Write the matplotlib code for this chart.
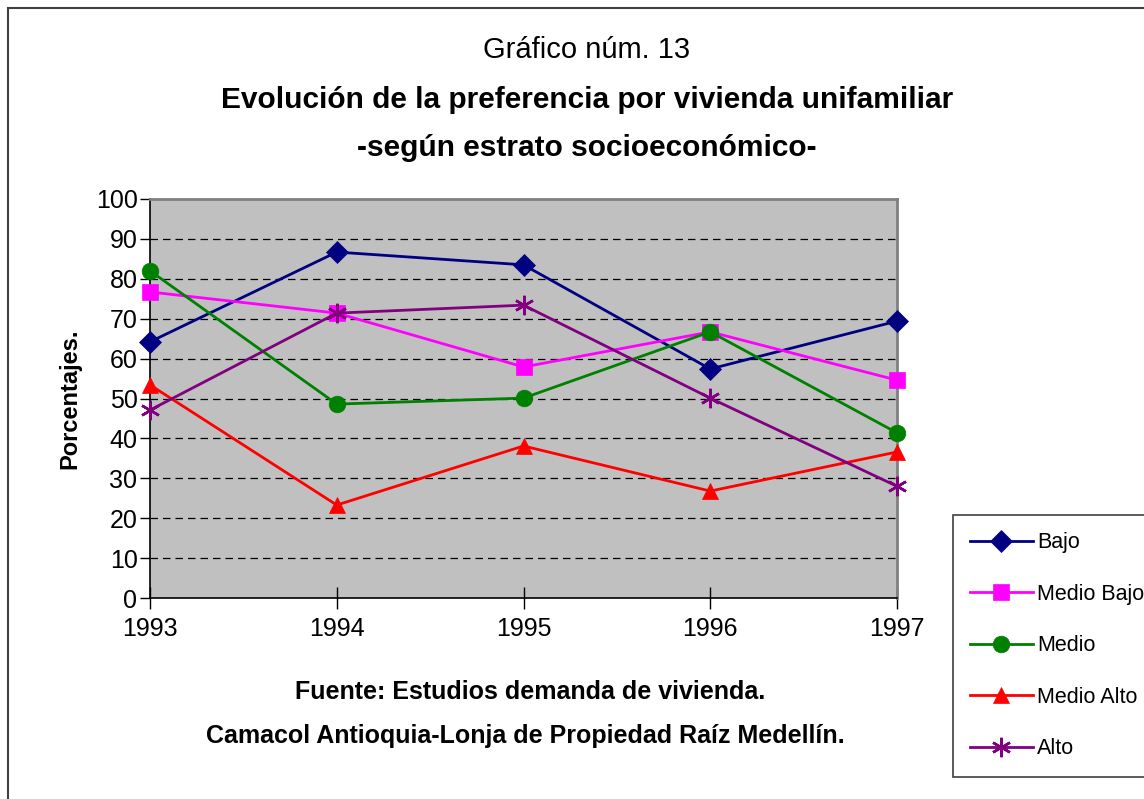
import matplotlib.pyplot as plt
from matplotlib.patches import Rectangle

plt.rcParams["font.family"] = ["Liberation Sans", "DejaVu Sans"]

years = [1993, 1994, 1995, 1996, 1997]
bajo = [64.2, 86.7, 83.5, 57.4, 69.4]
medio_bajo = [76.7, 71.4, 57.9, 66.7, 54.6]
medio = [82.0, 48.6, 50.1, 66.7, 41.4]
medio_alto = [53.4, 23.3, 38.1, 26.8, 36.6]
alto = [47.1, 71.4, 73.4, 50.1, 28.0]

series = [
    ("Bajo", bajo, "#000080", "D", 11),
    ("Medio Bajo", medio_bajo, "#FF00FF", "s", 11),
    ("Medio", medio, "#008000", "o", 12),
    ("Medio Alto", medio_alto, "#FF0000", "^", 12),
    ("Alto", alto, "#800080", (6, 2, 0), 14),
]

fig = plt.figure(figsize=(11.44, 7.99), dpi=100)
ax = fig.add_axes([150 / 1144, 1 - 598 / 799, (897 - 150) / 1144, (598 - 199) / 799])
ax.set_facecolor("#C0C0C0")

for name, vals, color, marker, ms in series:
    ax.plot(years, vals, color=color, lw=2, marker=marker, markersize=ms,
            markeredgecolor=color, markeredgewidth=1.8 if marker == (6, 2, 0) else 0.5,
            label=name, zorder=3, clip_on=False)

ax.set_xlim(1993, 1997)
ax.set_ylim(0, 100)
ax.set_yticks(range(0, 101, 10))
ax.set_xticks(years)
ax.set_xticklabels([str(y) for y in years])
for y in range(10, 100, 10):
    ax.axhline(y, color="black", lw=0.9, ls=(0, (6, 4)), zorder=1)

for s in ["top", "right"]:
    ax.spines[s].set_color("#808080")
    ax.spines[s].set_linewidth(2)
for s in ["left", "bottom"]:
    ax.spines[s].set_color("black")
    ax.spines[s].set_linewidth(1.2)
ax.tick_params(axis="y", direction="out", length=7, width=1, labelsize=18, pad=2)
ax.tick_params(axis="x", direction="inout", length=16, width=1, labelsize=18, pad=6)
ax.set_ylabel("Porcentajes.", fontsize=17, fontweight="bold", labelpad=10)

fig.text(587 / 1144, 1 - 50 / 799, "Gráfico núm. 13", ha="center", va="center", fontsize=21)
fig.text(587 / 1144, 1 - 100 / 799, "Evolución de la preferencia por vivienda unifamiliar",
         ha="center", va="center", fontsize=21.5, fontweight="bold")
fig.text(587 / 1144, 1 - 148 / 799, "-según estrato socioeconómico-",
         ha="center", va="center", fontsize=21.5, fontweight="bold")
fig.text(530 / 1144, 1 - 692 / 799, "Fuente: Estudios demanda de vivienda.",
         ha="center", va="center", fontsize=18, fontweight="bold")
fig.text(525 / 1144, 1 - 736 / 799, "Camacol Antioquia-Lonja de Propiedad Raíz Medellín.",
         ha="center", va="center", fontsize=18, fontweight="bold")

fig.patches.append(Rectangle((8 / 1144, -0.1), 1.2, 1.1 - 8 / 799, transform=fig.transFigure,
                             fill=False, edgecolor="#404040", lw=1.5))

leg = fig.legend(loc="upper left", bbox_to_anchor=(953 / 1144, 1 - 515 / 799),
                 fontsize=15.5, frameon=True, fancybox=False, edgecolor="#404040",
                 framealpha=1, handlelength=2.9, handletextpad=0.2, labelspacing=1.42,
                 borderpad=0.8, borderaxespad=0)
leg.get_frame().set_linewidth(1.2)

fig.savefig("out.png", dpi=100)
